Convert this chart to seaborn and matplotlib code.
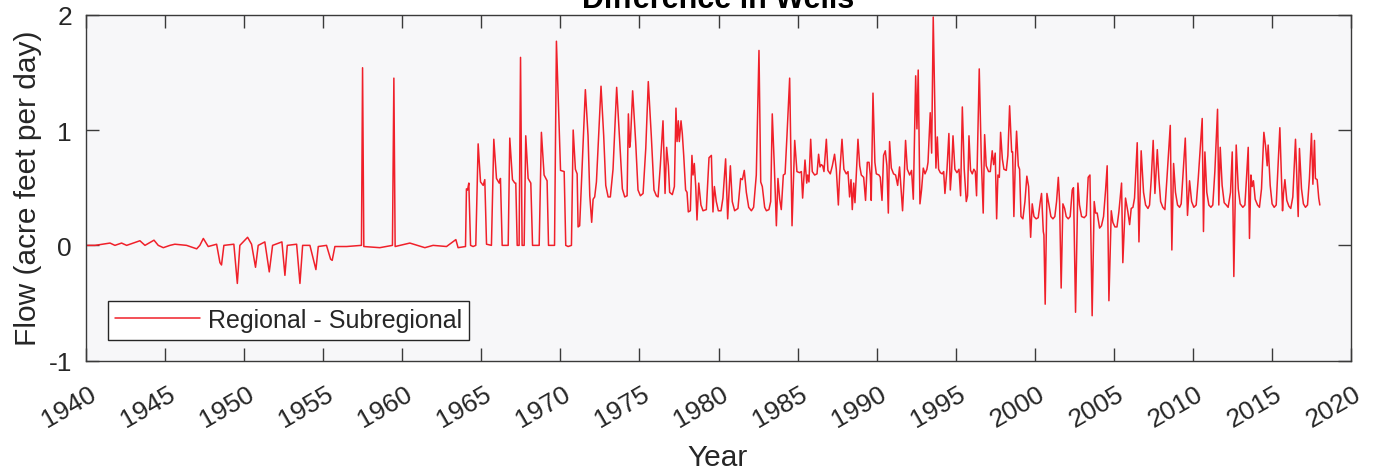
import numpy as np
import pandas as pd
import matplotlib
matplotlib.use("Agg")
import matplotlib.pyplot as plt
import matplotlib.transforms as mtransforms
import seaborn as sns

# =========================================
#  Data: (year, flow), one list per period
# =========================================

flow_1940_1963 = [
    (1940.00, 0.00), (1940.57, 0.00), (1941.52, 0.02), (1941.83, 0.00), (1942.25, 0.02),
    (1942.57, 0.00), (1943.41, 0.04), (1943.73, 0.00), (1944.30, 0.045), (1944.57, 0.00),
    (1944.89, -0.02), (1945.31, 0.00), (1945.62, 0.01), (1946.36, 0.00), (1947.00, -0.03),
    (1947.20, 0.00), (1947.42, 0.06), (1947.73, -0.01), (1948.26, 0.01), (1948.47, -0.15),
    (1948.57, -0.17), (1948.72, 0.00), (1949.35, 0.01), (1949.57, -0.33), (1949.73, 0.00),
    (1950.22, 0.07), (1950.47, 0.01), (1950.72, -0.19), (1950.89, 0.00), (1951.31, 0.03),
    (1951.59, -0.23), (1951.80, 0.00), (1952.39, 0.03), (1952.58, -0.26), (1952.73, 0.00),
    (1953.32, 0.01), (1953.53, -0.33), (1953.70, 0.00), (1954.16, 0.00), (1954.54, -0.21),
    (1954.69, -0.01), (1955.21, 0.00), (1955.47, -0.12), (1955.57, -0.13), (1955.74, -0.01),
    (1956.48, -0.01), (1957.42, 0.00), (1957.49, 1.54), (1957.57, -0.01), (1958.58, -0.02),
    (1959.38, 0.00), (1959.47, 1.45), (1959.55, -0.01), (1960.48, 0.02), (1961.43, -0.02),
    (1961.95, 0.00), (1962.80, -0.01), (1963.39, 0.05), (1963.53, -0.02), (1963.96, -0.01),
]

flow_1964_1970 = [
    (1964.00, -0.01), (1964.06, 0.49), (1964.13, 0.48), (1964.21, 0.54), (1964.32, 0.00),
    (1964.48, -0.01), (1964.65, 0.00), (1964.80, 0.88), (1964.95, 0.55), (1965.12, 0.52),
    (1965.22, 0.57), (1965.33, 0.01), (1965.64, 0.00), (1965.79, 0.92), (1965.96, 0.58),
    (1966.13, 0.54), (1966.21, 0.58), (1966.32, 0.00), (1966.70, 0.00), (1966.80, 0.93),
    (1966.97, 0.57), (1967.12, 0.54), (1967.18, 0.54), (1967.27, 0.00), (1967.39, 0.00),
    (1967.48, 1.63), (1967.58, 0.00), (1967.71, 0.00), (1967.81, 0.95), (1967.96, 0.58),
    (1968.13, 0.54), (1968.24, 0.00), (1968.66, 0.00), (1968.80, 0.98), (1968.97, 0.61),
    (1969.16, 0.56), (1969.25, 0.00), (1969.63, 0.00), (1969.75, 1.77), (1970.01, 0.65),
    (1970.24, 0.64), (1970.34, 0.00), (1970.49, -0.01), (1970.70, 0.00), (1970.81, 1.00),
]

flow_1971_1981 = [
    (1970.95, 0.66), (1971.06, 0.62), (1971.12, 0.16), (1971.22, 0.17), (1971.58, 1.35),
    (1971.75, 0.95), (1971.86, 0.43), (1971.98, 0.20), (1972.07, 0.40), (1972.17, 0.42),
    (1972.28, 0.55), (1972.57, 1.38), (1972.74, 0.95), (1972.87, 0.52), (1973.02, 0.42),
    (1973.16, 0.42), (1973.33, 0.66), (1973.56, 1.37), (1973.75, 0.90), (1973.92, 0.49),
    (1974.07, 0.42), (1974.22, 0.43), (1974.30, 1.14), (1974.38, 0.85), (1974.43, 0.90),
    (1974.57, 1.34), (1974.76, 0.90), (1974.91, 0.48), (1975.06, 0.43), (1975.23, 0.45),
    (1975.40, 0.84), (1975.56, 1.42), (1975.75, 0.95), (1975.92, 0.48), (1976.07, 0.43),
    (1976.18, 0.42), (1976.32, 0.69), (1976.49, 1.08), (1976.62, 0.45), (1976.72, 0.85),
    (1976.83, 0.69), (1976.91, 0.46), (1977.08, 0.44), (1977.21, 0.51), (1977.31, 1.19),
    (1977.38, 0.90), (1977.46, 1.08), (1977.52, 0.90), (1977.63, 1.08), (1977.71, 0.97),
    (1977.80, 0.78), (1977.92, 0.48), (1978.01, 0.46), (1978.09, 0.29), (1978.22, 0.30),
    (1978.32, 0.78), (1978.39, 0.61), (1978.47, 0.71), (1978.56, 0.51), (1978.64, 0.22),
    (1978.75, 0.54), (1978.89, 0.35), (1979.02, 0.30), (1979.23, 0.31), (1979.40, 0.76),
    (1979.55, 0.78), (1979.65, 0.29), (1979.74, 0.51), (1979.86, 0.38), (1979.99, 0.30),
    (1980.16, 0.30), (1980.28, 0.41), (1980.45, 0.75), (1980.58, 0.23), (1980.75, 0.69),
    (1980.87, 0.38), (1981.02, 0.30), (1981.23, 0.32), (1981.40, 0.58), (1981.51, 0.57),
    (1981.63, 0.65),
]

flow_1982_1993 = [
    (1981.76, 0.46), (1981.91, 0.33), (1982.08, 0.30), (1982.22, 0.33), (1982.39, 0.61),
    (1982.56, 1.69), (1982.67, 0.55), (1982.77, 0.51), (1982.92, 0.33), (1983.03, 0.30),
    (1983.19, 0.31), (1983.30, 0.38), (1983.40, 1.14), (1983.53, 0.69), (1983.66, 0.17),
    (1983.76, 0.58), (1983.87, 0.40), (1983.97, 0.31), (1984.10, 0.61), (1984.21, 0.62),
    (1984.33, 0.95), (1984.50, 1.45), (1984.65, 0.17), (1984.82, 0.91), (1984.96, 0.64),
    (1985.13, 0.63), (1985.24, 0.64), (1985.32, 0.41), (1985.47, 0.74), (1985.58, 0.54),
    (1985.64, 0.61), (1985.72, 0.55), (1985.83, 0.92), (1985.93, 0.64), (1986.08, 0.61),
    (1986.23, 0.62), (1986.33, 0.79), (1986.42, 0.68), (1986.50, 0.70), (1986.59, 0.69),
    (1986.67, 0.64), (1986.82, 0.92), (1986.92, 0.65), (1987.07, 0.62), (1987.20, 0.69),
    (1987.34, 0.79), (1987.45, 0.66), (1987.58, 0.35), (1987.66, 0.61), (1987.81, 0.92),
    (1987.93, 0.66), (1988.08, 0.62), (1988.19, 0.64), (1988.29, 0.42), (1988.38, 0.57),
    (1988.46, 0.31), (1988.55, 0.54), (1988.63, 0.37), (1988.71, 0.61), (1988.82, 0.92),
    (1988.93, 0.69), (1989.03, 0.61), (1989.18, 0.59), (1989.30, 0.39), (1989.41, 0.72),
    (1989.52, 0.72), (1989.60, 0.61), (1989.66, 0.39), (1989.77, 1.32), (1989.89, 0.72),
    (1989.98, 0.62), (1990.15, 0.61), (1990.23, 0.59), (1990.34, 0.39), (1990.44, 0.78),
    (1990.55, 0.82), (1990.65, 0.69), (1990.74, 0.28), (1990.82, 0.90), (1990.93, 0.67),
    (1991.07, 0.62), (1991.20, 0.61), (1991.33, 0.52), (1991.45, 0.68), (1991.56, 0.46),
    (1991.64, 0.30), (1991.75, 0.61), (1991.83, 0.91), (1991.94, 0.66), (1992.09, 0.61),
    (1992.21, 0.65), (1992.32, 0.40), (1992.47, 1.47), (1992.55, 1.01), (1992.63, 1.52),
    (1992.74, 0.36), (1992.84, 0.48), (1992.95, 0.67), (1993.06, 0.62), (1993.18, 0.66),
]

flow_1993_2004 = [
    (1993.25, 0.72), (1993.39, 1.15), (1993.48, 0.80), (1993.58, 1.98), (1993.75, 0.67),
    (1993.84, 0.94), (1993.92, 0.66), (1994.03, 0.63), (1994.15, 0.62), (1994.24, 0.64),
    (1994.32, 0.45), (1994.45, 0.66), (1994.57, 0.97), (1994.66, 0.48), (1994.74, 0.64),
    (1994.83, 0.95), (1994.95, 0.66), (1995.08, 0.63), (1995.21, 0.66), (1995.31, 0.43),
    (1995.42, 1.20), (1995.54, 0.66), (1995.67, 0.38), (1995.75, 0.43), (1995.84, 0.95),
    (1995.94, 0.65), (1996.05, 0.62), (1996.15, 0.66), (1996.24, 0.64), (1996.32, 0.43),
    (1996.49, 1.53), (1996.62, 0.75), (1996.74, 0.28), (1996.83, 0.96), (1996.93, 0.69),
    (1997.08, 0.64), (1997.19, 0.64), (1997.31, 0.82), (1997.40, 0.70), (1997.50, 0.80),
    (1997.59, 0.23), (1997.67, 0.61), (1997.76, 0.59), (1997.84, 0.98), (1997.95, 0.75),
    (1998.05, 0.66), (1998.20, 0.65), (1998.30, 0.78), (1998.41, 1.21), (1998.54, 0.81),
    (1998.60, 0.81), (1998.68, 0.25), (1998.77, 0.72), (1998.85, 0.99), (1998.96, 0.69),
    (1999.04, 0.66), (1999.13, 0.25), (1999.25, 0.23), (1999.38, 0.38), (1999.50, 0.60),
    (1999.61, 0.51), (1999.74, 0.07), (1999.84, 0.36), (1999.95, 0.25), (2000.09, 0.23),
    (2000.22, 0.24), (2000.35, 0.38), (2000.43, 0.45), (2000.54, 0.12), (2000.58, 0.09),
    (2000.66, -0.51), (2000.77, 0.45), (2000.90, 0.35), (2001.02, 0.25), (2001.15, 0.23),
    (2001.27, 0.25), (2001.38, 0.38), (2001.49, 0.59), (2001.57, 0.38), (2001.67, -0.37),
    (2001.78, 0.36), (2001.89, 0.32), (2001.99, 0.25), (2002.12, 0.23), (2002.24, 0.25),
    (2002.37, 0.48), (2002.45, 0.50), (2002.58, -0.58), (2002.73, 0.54), (2002.83, 0.35),
    (2002.96, 0.25), (2003.13, 0.24), (2003.26, 0.26), (2003.38, 0.59), (2003.49, 0.61),
    (2003.63, -0.61), (2003.76, 0.38), (2003.85, 0.28), (2003.95, 0.28), (2004.10, 0.15),
    (2004.22, 0.17), (2004.35, 0.25), (2004.48, 0.48), (2004.58, 0.69), (2004.69, -0.48),
]

flow_2005_2018 = [
    (2004.84, 0.30), (2004.94, 0.20), (2005.07, 0.16), (2005.20, 0.16), (2005.32, 0.29),
    (2005.49, 0.54), (2005.57, -0.15), (2005.74, 0.41), (2005.89, 0.29), (2006.00, 0.18),
    (2006.10, 0.32), (2006.21, 0.33), (2006.31, 0.41), (2006.48, 0.89), (2006.59, 0.03),
    (2006.73, 0.82), (2006.88, 0.46), (2007.01, 0.35), (2007.16, 0.32), (2007.26, 0.35),
    (2007.37, 0.58), (2007.49, 0.91), (2007.60, 0.45), (2007.75, 0.83), (2007.85, 0.58),
    (2007.96, 0.38), (2008.10, 0.33), (2008.23, 0.31), (2008.36, 0.58), (2008.57, 1.04),
    (2008.67, -0.04), (2008.78, 0.71), (2008.90, 0.46), (2009.03, 0.35), (2009.16, 0.33),
    (2009.26, 0.36), (2009.39, 0.64), (2009.52, 0.93), (2009.66, 0.26), (2009.79, 0.56),
    (2009.92, 0.38), (2010.06, 0.33), (2010.21, 0.35), (2010.34, 0.58), (2010.59, 1.10),
    (2010.67, 0.12), (2010.76, 0.81), (2010.88, 0.46), (2011.01, 0.35), (2011.14, 0.33),
    (2011.26, 0.35), (2011.39, 0.64), (2011.56, 1.18), (2011.64, 0.35), (2011.73, 0.85),
    (2011.85, 0.52), (2011.98, 0.37), (2012.11, 0.35), (2012.23, 0.33), (2012.38, 0.46),
    (2012.49, 0.81), (2012.59, -0.27), (2012.74, 0.87), (2012.87, 0.49), (2012.99, 0.36),
    (2013.16, 0.33), (2013.29, 0.35), (2013.39, 0.58), (2013.50, 0.85), (2013.58, 0.06),
    (2013.67, 0.61), (2013.75, 0.51), (2013.83, 0.56), (2013.94, 0.40), (2014.09, 0.35),
    (2014.21, 0.33), (2014.34, 0.49), (2014.49, 0.98), (2014.59, 0.87), (2014.70, 0.69),
    (2014.76, 0.87), (2014.89, 0.52), (2015.01, 0.36), (2015.14, 0.33), (2015.27, 0.35),
    (2015.37, 0.64), (2015.50, 1.02), (2015.60, 0.61), (2015.67, 0.30), (2015.73, 0.45),
    (2015.82, 0.57), (2015.94, 0.39), (2016.07, 0.34), (2016.19, 0.32), (2016.32, 0.42),
    (2016.49, 0.92), (2016.66, 0.25), (2016.74, 0.84), (2016.87, 0.49), (2016.99, 0.36),
    (2017.12, 0.33), (2017.25, 0.35), (2017.37, 0.58), (2017.50, 0.97), (2017.59, 0.53),
    (2017.69, 0.91), (2017.75, 0.58), (2017.86, 0.57), (2017.96, 0.41), (2018.03, 0.35),
]

year_ticks = np.arange(1940, 2021, 5)
flow_ticks = [-1, 0, 1, 2]

df = pd.DataFrame(
    flow_1940_1963 + flow_1964_1970 + flow_1971_1981
    + flow_1982_1993 + flow_1993_2004 + flow_2005_2018,
    columns=["Year", "Flow"],
)

# =========================================
#  Plot
# =========================================

sns.set_style("ticks")
plt.rcParams["font.family"] = ["Liberation Sans", "DejaVu Sans"]
plt.rcParams["axes.unicode_minus"] = False

W, H = 1382, 477
fig = plt.figure(figsize=(W / 100, H / 100), dpi=100)
ax = fig.add_axes([86 / W, 1 - 361.7 / H, (1351 - 86) / W, (361.7 - 15.7) / H])
ax.set_facecolor("#f7f7f9")

sns.lineplot(data=df, x="Year", y="Flow", ax=ax, color="#f0202a", linewidth=1.1,
             estimator=None, sort=False, label="Regional - Subregional")

ax.set_xlim(1940, 2020)
ax.set_ylim(-1, 2)
ax.set_xticks(year_ticks)
ax.set_yticks(flow_ticks)
ax.set_xlabel("")
ax.set_ylabel("")

for sp in ax.spines.values():
    sp.set_color("#3a3a3a")
    sp.set_linewidth(1.0)

ax.tick_params(direction="in", length=9.5, width=1, color="#3a3a3a",
               top=True, right=True, labelsize=19, labelcolor="#262626")
ax.tick_params(axis="x", pad=22)
ax.tick_params(axis="y", pad=10)

shift = mtransforms.ScaledTranslation(8 / 100, 0, fig.dpi_scale_trans)
for lab in ax.get_xticklabels():
    lab.set_rotation(30)
    lab.set_ha("right")
    lab.set_va("center")
    lab.set_rotation_mode("anchor")
    lab.set_transform(lab.get_transform() + shift)

fig.text(718 / W, 1 - 458 / H, "Year", ha="center", va="center", fontsize=21.5, color="#262626")
fig.text(28 / W, 1 - 188.7 / H, "Flow (acre feet per day)", rotation=90,
         ha="center", va="center", fontsize=21.5, color="#262626")
fig.text(718.5 / W, 1 - 7.5 / H, "Difference in Wells", ha="center", va="baseline",
         fontsize=22, fontweight="bold", color="black")

leg = ax.legend(loc="lower left", bbox_to_anchor=(0.0172, 0.0607), borderaxespad=0,
                frameon=True, fancybox=False, edgecolor="#262626", facecolor="white",
                framealpha=1, fontsize=18, handlelength=3.4, handletextpad=0.3,
                borderpad=0.3)
leg.get_frame().set_linewidth(1.0)

fig.savefig("out.png", dpi=100)
plt.close(fig)
